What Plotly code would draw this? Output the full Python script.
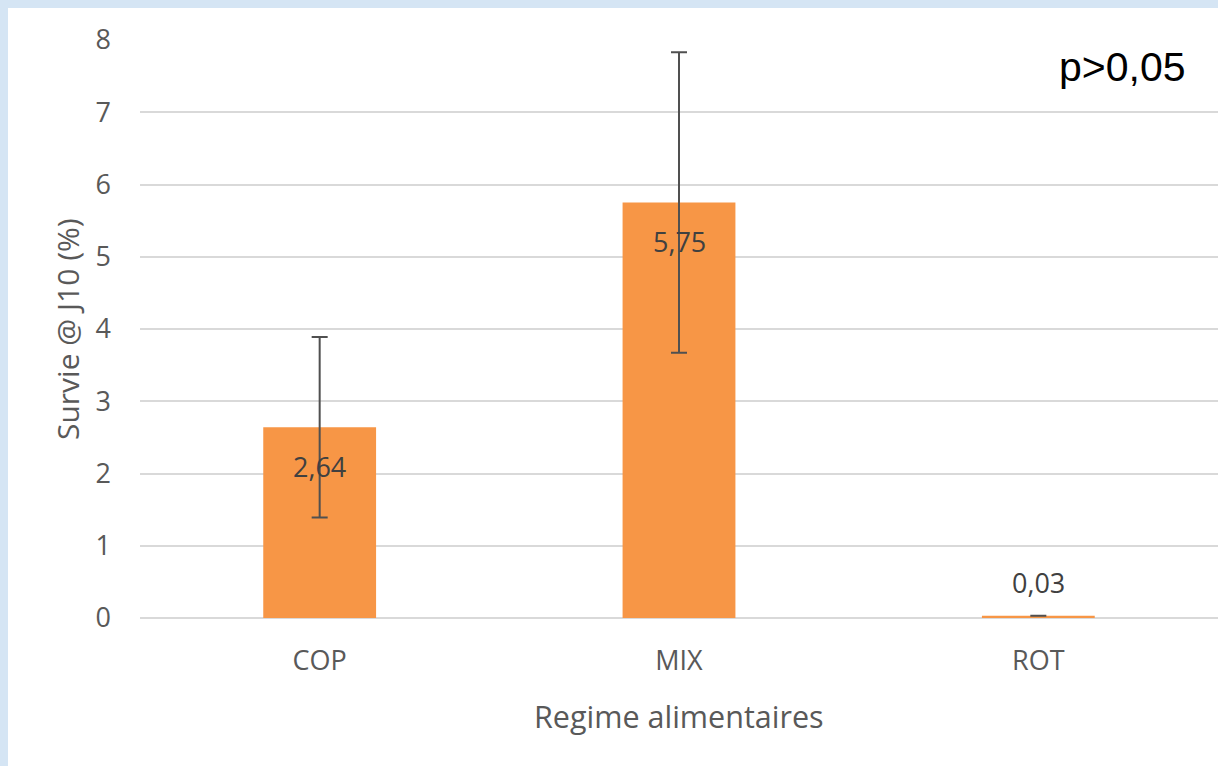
import plotly.graph_objects as go

# ---- data ----
categories = ["COP", "MIX", "ROT"]
survival = [2.64, 5.75, 0.03]
errors = [1.25, 2.08, 0.0]
value_labels = ["2,64", "5,75", "0,03"]
y_ticks = [0, 1, 2, 3, 4, 5, 6, 7, 8]

W, H = 1218, 766
L, R, T, B = 140, 0, 40, 148
pw, ph = W - L - R, H - T - B

def px_to_paper_x(px):
    return (px - L) / pw

def px_to_paper_y(py):
    return (H - B - py) / ph

label_font = dict(family="Open Sans", size=27, color="#404040")
axis_font = dict(family="Open Sans", size=27, color="#595959")

fig = go.Figure()
fig.add_trace(go.Bar(
    x=categories, y=survival,
    marker=dict(color="#f79646", line=dict(width=0)),
    error_y=dict(type="data", array=errors, visible=True,
                 color="#505050", thickness=2, width=8),
    hoverinfo="skip",
))

annotations = []
for cat, v, lab in zip(categories, survival, value_labels):
    shift = -39 if v > 1 else 33
    annotations.append(dict(x=cat, y=v, xref="x", yref="y", text=lab,
                            showarrow=False, yshift=shift, yanchor="middle",
                            font=label_font))

annotations.append(dict(text="p>0,05", x=px_to_paper_x(1188), y=px_to_paper_y(67),
                        xref="paper", yref="paper", xanchor="right", yanchor="middle",
                        showarrow=False,
                        font=dict(family="Liberation Sans, Arial", size=41, color="#000000")))
annotations.append(dict(text="Regime alimentaires", x=0.5, y=px_to_paper_y(716),
                        xref="paper", yref="paper", xanchor="center", yanchor="middle",
                        showarrow=False, font=dict(family="Open Sans", size=30.5, color="#595959")))
annotations.append(dict(text="Survie @ J10 (%)", x=px_to_paper_x(67), y=0.5,
                        xref="paper", yref="paper", xanchor="center", yanchor="middle",
                        textangle=-90, showarrow=False,
                        font=dict(family="Open Sans", size=30, color="#595959")))

fig.update_layout(
    width=W, height=H,
    margin=dict(l=L, r=R, t=T, b=B, pad=0),
    paper_bgcolor="#d5e5f4",
    plot_bgcolor="rgba(0,0,0,0)",
    showlegend=False,
    bargap=0.686,
    annotations=annotations,
    shapes=[dict(type="rect", xref="paper", yref="paper", layer="below",
                 x0=px_to_paper_x(8), x1=px_to_paper_x(W + 5),
                 y0=px_to_paper_y(H + 5), y1=px_to_paper_y(8),
                 fillcolor="#ffffff", line=dict(width=0))],
    xaxis=dict(showgrid=False, showline=False, zeroline=False, automargin=False,
               ticks="", tickfont=axis_font, ticklabelstandoff=24,
               fixedrange=True),
    yaxis=dict(range=[0, 8], tickvals=y_ticks, showgrid=True,
               gridcolor="#d9d9d9", gridwidth=2, zeroline=True,
               zerolinecolor="#d9d9d9", zerolinewidth=2, showline=False,
               automargin=False, ticks="", tickfont=axis_font,
               ticklabelstandoff=28, fixedrange=True),
)

fig.write_html(
    "out.html",
    config={"displayModeBar": False},
    post_script="document.body.style.margin='0';document.body.style.overflow='hidden';",
)
